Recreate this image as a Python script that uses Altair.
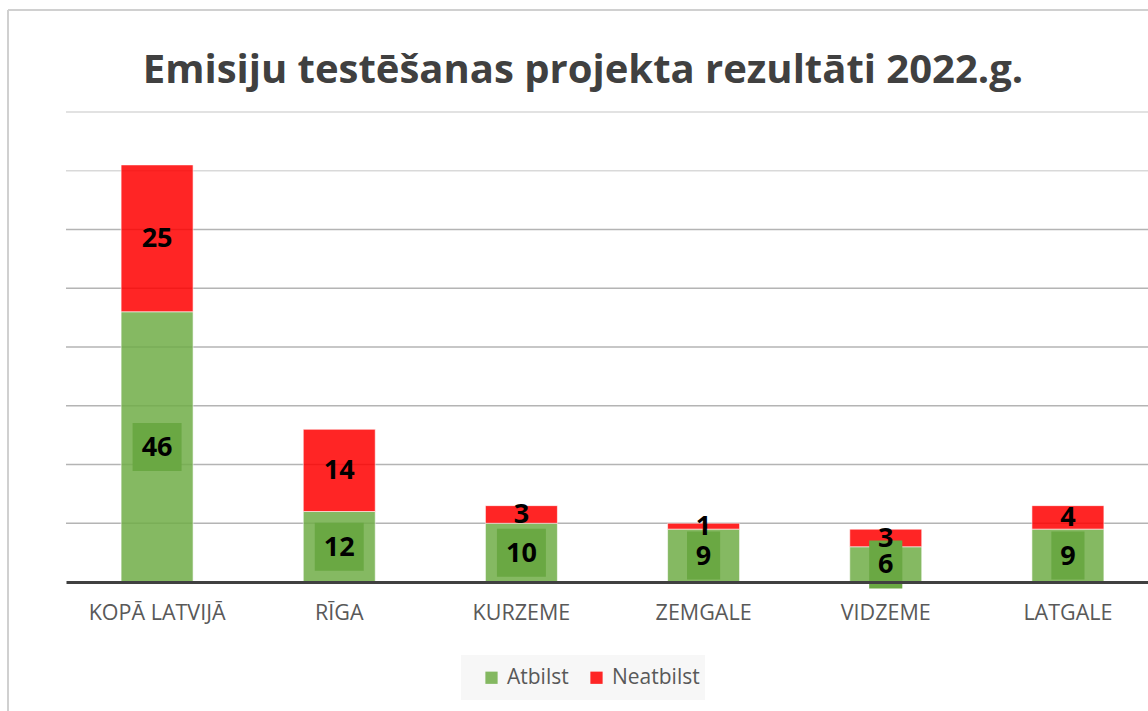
import altair as alt
import pandas as pd

categories = ["KOPĀ LATVIJĀ", "RĪGA", "KURZEME", "ZEMGALE", "VIDZEME", "LATGALE"]
atbilst = [46, 12, 10, 9, 6, 9]
neatbilst = [25, 14, 3, 1, 3, 4]
series = ["Atbilst", "Neatbilst"]
grid_values = [10, 20, 30, 40, 50, 60, 70, 80]
title_text = "Emisiju testēšanas projekta rezultāti 2022.g."

rows = []
for c, a, n in zip(categories, atbilst, neatbilst):
    rows.append({"cat": c, "series": "Atbilst", "value": a, "y0": 0, "y1": a, "mid": a / 2,
                 "digits": str(len(str(a)))})
    rows.append({"cat": c, "series": "Neatbilst", "value": n, "y0": a, "y1": a + n, "mid": a + n / 2,
                 "digits": str(len(str(n)))})
df = pd.DataFrame(rows)
grid_df = pd.DataFrame({"g": grid_values, "tone": ["dark" if g <= 60 else "light" for g in grid_values]})

W, H = 1082, 470
FONT = "Open Sans"

xscale = alt.Scale(domain=categories, range=[0, 1093], paddingInner=0, paddingOuter=0)
yscale = alt.Scale(domain=[0, 80], nice=False, zero=True)

xenc = alt.X("cat:N", sort=categories, scale=xscale,
             axis=alt.Axis(title=None, labelAngle=0, ticks=False, domainColor="#404040",
                           domainWidth=3, labelColor="#595959", labelFont=FONT, labelFontSize=21.5,
                           labelPadding=31, zindex=1, labelBaseline="middle"))

one = pd.DataFrame({"k": [0]})
frame_left = alt.Chart(one).mark_rule(color="#d0d0d0", strokeWidth=2).encode(
    x=alt.value(-58), y=alt.value(-102), y2=alt.value(640))
frame_top = alt.Chart(one).mark_rule(color="#d0d0d0", strokeWidth=2).encode(
    x=alt.value(-58), x2=alt.value(1200), y=alt.value(-102))
legend_bg = alt.Chart(one).mark_rect(color="#f7f7f7").encode(
    x=alt.value(395), x2=alt.value(639), y=alt.value(543), y2=alt.value(588))

grid = alt.Chart(grid_df).mark_rule(strokeWidth=1.5).encode(
    y=alt.Y("g:Q", scale=yscale, axis=None),
    x=alt.value(0), x2=alt.value(1200),
    color=alt.Color("tone:N", scale=alt.Scale(domain=["dark", "light"], range=["#b4b4b4", "#d9d9d9"]),
                    legend=None),
)

bars = alt.Chart(df).mark_bar(width=72, opacity=0.85, stroke="#ffffff", strokeWidth=1,
                              strokeOpacity=0.6).encode(
    x=xenc,
    y=alt.Y("y0:Q", scale=yscale, axis=None),
    y2="y1:Q",
    color=alt.Color("series:N", scale=alt.Scale(domain=series, range=["#70AD47", "#FF0000"]),
                    legend=alt.Legend(title=None, orient="none", legendX=415, legendY=555,
                                      direction="horizontal", symbolType="square", symbolSize=150,
                                      symbolOpacity=0.85, labelFont=FONT, labelFontSize=21,
                                      labelColor="#595959", padding=0,
                                      columnPadding=17, labelOffset=5, symbolStrokeWidth=0)),
)

path1 = "M-0.69,-1H0.69V1H-0.69Z"
path2 = "M-1.02,-1H1.02V1H-1.02Z"
boxes = alt.Chart(df).transform_filter(alt.datum.series == "Atbilst").mark_point(
    filled=True, opacity=1, color="#6AA843", size=2304).encode(
    x=alt.X("cat:N", sort=categories),
    y=alt.Y("mid:Q"),
    shape=alt.Shape("digits:N", scale=alt.Scale(domain=["1", "2"], range=[path1, path2]), legend=None),
)

labels = alt.Chart(df).mark_text(font=FONT, fontWeight="bold", fontSize=27, color="#000000",
                                 baseline="middle", dy=1).encode(
    x=alt.X("cat:N", sort=categories),
    y=alt.Y("mid:Q"),
    text="value:Q",
)

title = alt.Chart(pd.DataFrame({"t": [title_text]})).mark_text(
    font=FONT, fontWeight="bold", fontSize=40, color="#404040", align="center",
    baseline="alphabetic").encode(x=alt.value(517), y=alt.value(-29), text="t:N")

chart = alt.layer(frame_left, frame_top, legend_bg, grid, bars, boxes, labels, title).resolve_scale(
    color="independent"
).properties(
    width=W, height=H,
    autosize=alt.AutoSizeParams(type="none"),
    padding={"left": 66, "top": 112, "right": 0, "bottom": 129},
    background="#ffffff",
).configure_view(stroke=None)

chart.save("out.html", embed_options={"renderer": "svg", "actions": False})
